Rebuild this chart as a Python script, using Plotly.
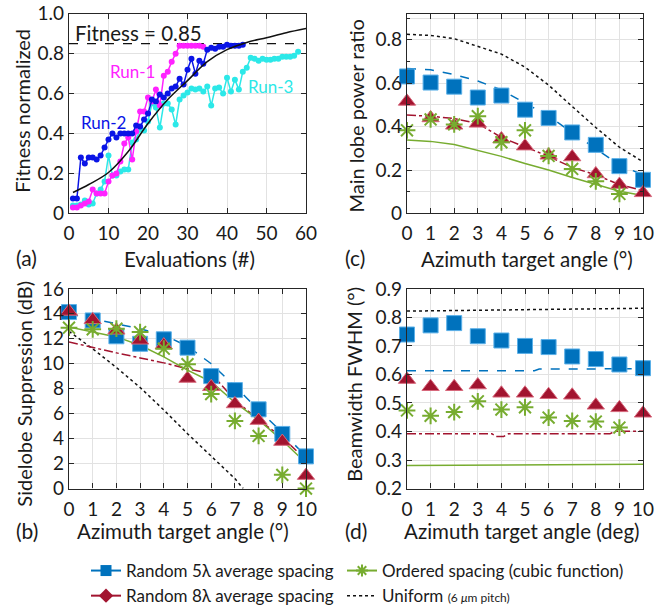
import plotly.graph_objects as go

W, H = 665, 614
FONT = "Lato"
TXT = "#1a1a1a"

# ---------------- Panel (a): fitness vs evaluations ----------------
run1_x = list(range(1, 35))
run1_y = [0.03, 0.03, 0.04, 0.05, 0.06, 0.12, 0.10, 0.10, 0.10, 0.16,
          0.19, 0.20, 0.26, 0.35, 0.38, 0.27, 0.41, 0.51, 0.51, 0.58,
          0.56, 0.62, 0.54, 0.69, 0.71, 0.76, 0.80, 0.84, 0.84, 0.84,
          0.84, 0.84, 0.84, 0.835]
run2_x = list(range(1, 45))
run2_y = [0.075, 0.075, 0.28, 0.25, 0.28, 0.28, 0.27, 0.29, 0.33, 0.37,
          0.40, 0.38, 0.40, 0.40, 0.40, 0.40, 0.44, 0.435, 0.47, 0.50,
          0.57, 0.56, 0.595, 0.58, 0.60, 0.625, 0.635, 0.675, 0.645, 0.72,
          0.775, 0.70, 0.765, 0.75, 0.82, 0.83, 0.825, 0.835, 0.835, 0.845,
          0.84, 0.84, 0.84, 0.845]
run3_x = list(range(1, 59))
run3_y = [0.04, 0.04, 0.045, 0.065, 0.045, 0.05, 0.10, 0.12, 0.16, 0.29,
          0.19, 0.19, 0.21, 0.22, 0.22, 0.355, 0.37, 0.42, 0.415, 0.46,
          0.55, 0.53, 0.43, 0.55, 0.55, 0.52, 0.445, 0.57, 0.59, 0.605,
          0.625, 0.62, 0.625, 0.61, 0.635, 0.54, 0.625, 0.63, 0.60, 0.68,
          0.61, 0.67, 0.62, 0.71, 0.73, 0.78, 0.775, 0.765, 0.775, 0.77,
          0.77, 0.775, 0.775, 0.785, 0.785, 0.785, 0.79, 0.81]
fit_x = [1, 5, 10, 15, 20, 25, 30, 35, 40, 45, 50, 55, 60]
fit_y = [0.105, 0.145, 0.205, 0.31, 0.45, 0.57, 0.665, 0.76, 0.82, 0.856, 0.88, 0.905, 0.926]
thr_x = [0, 60]
thr_y = [0.85, 0.85]

# ---------------- Shared angle axis ----------------
angles = [0, 1, 2, 3, 4, 5, 6, 7, 8, 9, 10]
angles_star = [0, 1, 2, 3, 4, 5, 6, 7, 8, 9]

# ---------------- Panel (c): main lobe power ratio ----------------
c_sq = [0.631, 0.603, 0.584, 0.534, 0.543, 0.478, 0.44, 0.373, 0.316, 0.218, 0.155]
c_tri = [0.516, 0.44, 0.406, 0.415, 0.343, 0.31, 0.268, 0.26, 0.182, 0.133, 0.095]
c_star = [0.383, 0.433, 0.41, 0.448, 0.328, 0.383, 0.265, 0.205, 0.148, 0.09]
c_blue_line = [0.668, 0.662, 0.64, 0.61, 0.569, 0.508, 0.448, 0.373, 0.298, 0.223, 0.178]
c_red_line = [0.453, 0.448, 0.437, 0.414, 0.35, 0.305, 0.263, 0.212, 0.178, 0.133, 0.105]
c_green_line = [0.338, 0.332, 0.318, 0.29, 0.263, 0.23, 0.2, 0.166, 0.133, 0.102, 0.083]
c_black_line = [0.825, 0.82, 0.805, 0.77, 0.734, 0.674, 0.591, 0.493, 0.396, 0.305, 0.238]

# ---------------- Panel (b): sidelobe suppression ----------------
b_sq = [14.14, 13.47, 12.2, 11.6, 11.96, 11.29, 9.01, 7.89, 6.35, 4.38, 2.58]
b_tri = [14.19, 13.52, 12.68, 11.88, 11.5, 8.82, 8.16, 6.78, 5.45, 3.77, 1.04]
b_star = [12.89, 12.76, 12.81, 12.54, 11.21, 9.97, 7.57, 5.42, 4.22, 1.1, 0.0]
b_blue_line = [14.0, 13.6, 13.2, 12.8, 12.3, 11.4, 10.0, 8.2, 6.3, 4.5, 2.6]
b_red_line = [11.75, 11.3, 10.87, 10.47, 10.07, 9.6, 9.2, 7.1, 5.5, 4.1, 2.3]
b_green_line = [12.94, 12.54, 12.15, 11.48, 10.55, 9.49, 8.56, 6.9, 5.5, 3.85, 2.05]
b_black_x = [0, 1, 2, 3, 4, 5, 6, 7, 7.35]
b_black_y = [12.6, 11.2, 9.7, 8.1, 6.3, 4.4, 2.6, 0.8, 0.0]

# ---------------- Panel (d): beamwidth FWHM ----------------
d_sq = [0.74, 0.772, 0.78, 0.734, 0.719, 0.70, 0.696, 0.663, 0.654, 0.635, 0.622]
d_tri = [0.582, 0.557, 0.557, 0.563, 0.534, 0.534, 0.529, 0.527, 0.492, 0.483, 0.464]
d_star = [0.474, 0.455, 0.468, 0.506, 0.477, 0.485, 0.449, 0.437, 0.435, 0.414]
d_black_x = [0, 5, 10]
d_black_y = [0.822, 0.826, 0.832]
d_blue_x = [0, 2, 4, 5.4, 5.6, 8, 10]
d_blue_y = [0.613, 0.613, 0.613, 0.613, 0.619, 0.619, 0.62]
d_red_x = [0, 2, 3.6, 3.8, 4.1, 4.3, 6, 8.6, 8.8, 10]
d_red_y = [0.392, 0.392, 0.392, 0.383, 0.383, 0.392, 0.392, 0.392, 0.401, 0.401]
d_green_x = [0, 5, 10]
d_green_y = [0.281, 0.283, 0.285]

# ---------------- Legend labels ----------------
leg_names = ["Random 5λ average spacing", "Random 8λ average spacing",
             "Ordered spacing (cubic function)",
             "Uniform <span style='font-size:12px'>(6 <i>μ</i>m pitch)</span>"]

BLUE = "#0072BD"
BLUE_EDGE = "#5BB0E8"
RED = "#A2142F"
RED_EDGE = "#D7677B"
GREEN = "#77AC30"
BLACK = "#111111"
MAG = "#FF22FF"
RUN2 = "#0A14E6"
CYAN = "#2CE8E8"

fig = go.Figure()

# ---- panel (a) ----
pa = dict(xaxis="x", yaxis="y")
fig.add_trace(go.Scatter(x=thr_x, y=thr_y, mode="lines", line=dict(color=BLACK, width=1.4, dash="dash"),
                         showlegend=False, **pa))
fig.add_trace(go.Scatter(x=run3_x, y=run3_y, mode="lines+markers", line=dict(color=CYAN, width=1.5),
                         marker=dict(size=6, color=CYAN), showlegend=False, **pa))
fig.add_trace(go.Scatter(x=run1_x, y=run1_y, mode="lines+markers", line=dict(color=MAG, width=1.5),
                         marker=dict(size=6, color=MAG), showlegend=False, **pa))
fig.add_trace(go.Scatter(x=run2_x, y=run2_y, mode="lines+markers", line=dict(color=RUN2, width=1.5),
                         marker=dict(size=6, color=RUN2), showlegend=False, **pa))
fig.add_trace(go.Scatter(x=fit_x, y=fit_y, mode="lines", line=dict(color=BLACK, width=1.5, shape="spline"),
                         showlegend=False, **pa))


def panel(xa, ya, sq, tri, star_x, star, lines):
    ref = dict(xaxis=xa, yaxis=ya)
    for (lx, ly, col, dash) in lines:
        fig.add_trace(go.Scatter(x=lx, y=ly, mode="lines", line=dict(color=col, width=1.5, dash=dash),
                                 showlegend=False, **ref))
    fig.add_trace(go.Scatter(x=angles, y=sq, mode="markers", cliponaxis=False,
                             marker=dict(symbol="square", size=15, color=BLUE, line=dict(color=BLUE_EDGE, width=1)),
                             showlegend=False, **ref))
    fig.add_trace(go.Scatter(x=angles, y=tri, mode="markers", cliponaxis=False,
                             marker=dict(symbol="triangle-up", size=15, color=RED, line=dict(color=RED_EDGE, width=1)),
                             showlegend=False, **ref))
    fig.add_trace(go.Scatter(x=star_x, y=star, mode="markers", cliponaxis=False,
                             marker=dict(symbol="asterisk-open", size=14, color=GREEN, line=dict(color=GREEN, width=2)),
                             showlegend=False, **ref))


panel("x2", "y2", c_sq, c_tri, angles_star, c_star, [
    (angles, c_black_line, BLACK, "dot"),
    (angles, c_blue_line, BLUE, "dash"),
    (angles, c_red_line, RED, "dashdot"),
    (angles, c_green_line, GREEN, "solid"),
])
panel("x3", "y3", b_sq, b_tri, angles, b_star, [
    (b_black_x, b_black_y, BLACK, "dot"),
    (angles, b_blue_line, BLUE, "dash"),
    (angles, b_red_line, RED, "dashdot"),
    (angles, b_green_line, GREEN, "solid"),
])
panel("x4", "y4", d_sq, d_tri, angles_star, d_star, [
    (d_black_x, d_black_y, BLACK, "dot"),
    (d_blue_x, d_blue_y, BLUE, "dash"),
    (d_red_x, d_red_y, RED, "dashdot"),
    (d_green_x, d_green_y, GREEN, "solid"),
])

# ---- legend entries (two legends = two columns) ----
leg_specs = [
    dict(line=dict(color=BLUE, width=2), marker=dict(symbol="square", size=11, color=BLUE)),
    dict(line=dict(color=RED, width=2), marker=dict(symbol="diamond", size=11, color=RED)),
    dict(line=dict(color=GREEN, width=2), marker=dict(symbol="asterisk-open", size=10, line=dict(color=GREEN, width=2))),
    dict(line=dict(color=BLACK, width=1.5, dash="dot"), marker=dict(size=1, opacity=0)),
]
leg_ids = ["legend", "legend", "legend2", "legend2"]
for name, spec, lid in zip(leg_names, leg_specs, leg_ids):
    fig.add_trace(go.Scatter(x=[None], y=[None], mode="lines+markers", name=name, legend=lid,
                             showlegend=True, xaxis="x", yaxis="y", **spec))

# ---- axes ----
YK = 0.993  # small vertical correction


def px_x(p):
    return p / W


def px_y(p):
    return 1 - (p / YK) / H


def ax(**kw):
    d = dict(showline=True, linecolor="#262626", linewidth=1.4, mirror="ticks",
             ticks="inside", ticklen=5, tickwidth=1, tickcolor="#262626",
             showgrid=True, gridcolor="#E2E2E2", gridwidth=1, zeroline=False,
             tickfont=dict(family=FONT, size=19, color=TXT),
             automargin=False, fixedrange=True)
    d.update(kw)
    return d


XL = [px_x(69), px_x(306)]
XR = [px_x(407), px_x(643)]
YT = [px_y(218), px_y(14)]
YB = [px_y(499), px_y(295)]

minor_grid = dict(showgrid=True, gridcolor="#E2E2E2", ticks="inside", ticklen=3, tickcolor="#262626")
leg_common = dict(orientation="v", xanchor="left", yanchor="top", tracegroupgap=0,
                  font=dict(family=FONT, size=17, color=TXT), bgcolor="rgba(0,0,0,0)")
SO = 3

fig.update_layout(
    width=W, height=H, autosize=False,
    margin=dict(l=0, r=0, t=0, b=0, pad=0),
    paper_bgcolor="white", plot_bgcolor="white",
    font=dict(family=FONT, size=17, color=TXT),
    xaxis=ax(domain=XL, anchor="y", range=[0, 60], tickvals=[0, 10, 20, 30, 40, 50, 60], ticklabelstandoff=SO),
    yaxis=ax(domain=YT, anchor="x", range=[0, 1], tickvals=[0, 0.2, 0.4, 0.6, 0.8, 1.0],
             ticktext=["0", "0.2", "0.4", "0.6", "0.8", "1.0"]),
    xaxis2=ax(domain=XR, anchor="y2", range=[0, 10], tickvals=angles, ticklabelstandoff=SO),
    yaxis2=ax(domain=YT, anchor="x2", range=[0, 0.92], tickvals=[0, 0.2, 0.4, 0.6, 0.8],
              ticktext=["0", "0.2", "0.4", "0.6", "0.8"], minor=dict(dtick=0.1, **minor_grid)),
    xaxis3=ax(domain=XL, anchor="y3", range=[0, 10], tickvals=angles, ticklabelstandoff=SO),
    yaxis3=ax(domain=YB, anchor="x3", range=[0, 16], tickvals=[0, 2, 4, 6, 8, 10, 12, 14, 16]),
    xaxis4=ax(domain=XR, anchor="y4", range=[0, 10], tickvals=angles, ticklabelstandoff=SO),
    yaxis4=ax(domain=YB, anchor="x4", range=[0.2, 0.9], tickvals=[0.2, 0.3, 0.4, 0.5, 0.6, 0.7, 0.8, 0.9],
              ticktext=["0.2", "0.3", "0.4", "0.5", "0.6", "0.7", "0.8", "0.9"]),
    legend=dict(x=px_x(86), y=px_y(565), **leg_common),
    legend2=dict(x=px_x(342), y=px_y(565), **leg_common),
)

ann = []
# in-plot texts of panel (a)
ann.append(dict(text="Fitness = 0.85", x=1.0, y=0.905, xref="x", yref="y", xanchor="left", yanchor="middle",
                showarrow=False, font=dict(size=20.5, color=TXT)))
ann.append(dict(text="Run-1", x=16.0, y=0.71, xref="x", yref="y", showarrow=False, font=dict(size=17, color=MAG)))
ann.append(dict(text="Run-2", x=8.7, y=0.456, xref="x", yref="y", showarrow=False, font=dict(size=17, color=RUN2)))
ann.append(dict(text="Run-3", x=50.9, y=0.637, xref="x", yref="y", showarrow=False, font=dict(size=17, color=CYAN)))

# axis titles
def xt(text, cx, cy):
    ann.append(dict(text=text, x=px_x(cx), y=px_y(cy), xref="paper", yref="paper", showarrow=False,
                    xanchor="center", yanchor="middle", font=dict(size=20.5, color=TXT)))


def yt(text, cx, cy):
    ann.append(dict(text=text, x=px_x(cx), y=px_y(cy), xref="paper", yref="paper", showarrow=False,
                    xanchor="center", yanchor="middle", textangle=-90, font=dict(size=20, color=TXT)))


xt("Evaluations (#)", 189, 264)
xt("Azimuth target angle (°)", 527, 264)
xt("Azimuth target angle (°)", 183, 542)
xt("Azimuth target angle (deg)", 522, 542)
yt("Fitness normalized", 22, 113)
yt("Main lobe power ratio", 356, 119)
yt("Sidelobe Suppression (dB)", 24, 402)
yt("Beamwidth FWHM (°)", 354, 393)

for lab, cx, cy in [("(a)", 14, 263), ("(c)", 343, 263), ("(b)", 14, 542), ("(d)", 343, 542)]:
    ann.append(dict(text=lab, x=px_x(cx), y=px_y(cy), xref="paper", yref="paper", showarrow=False,
                    xanchor="left", yanchor="middle", font=dict(size=21, color=TXT)))

fig.update_layout(annotations=ann)

page_fix = (
    "var s=document.createElement('style');"
    "s.textContent='html,body{margin:0;padding:0;width:665px;height:614px;overflow:hidden;}'"
    "+'.plotly-graph-div{position:absolute;left:0;top:0;}';"
    "document.head.appendChild(s);"
)
fig.write_html("out.html", config={"displayModeBar": False, "responsive": False}, post_script=page_fix)
